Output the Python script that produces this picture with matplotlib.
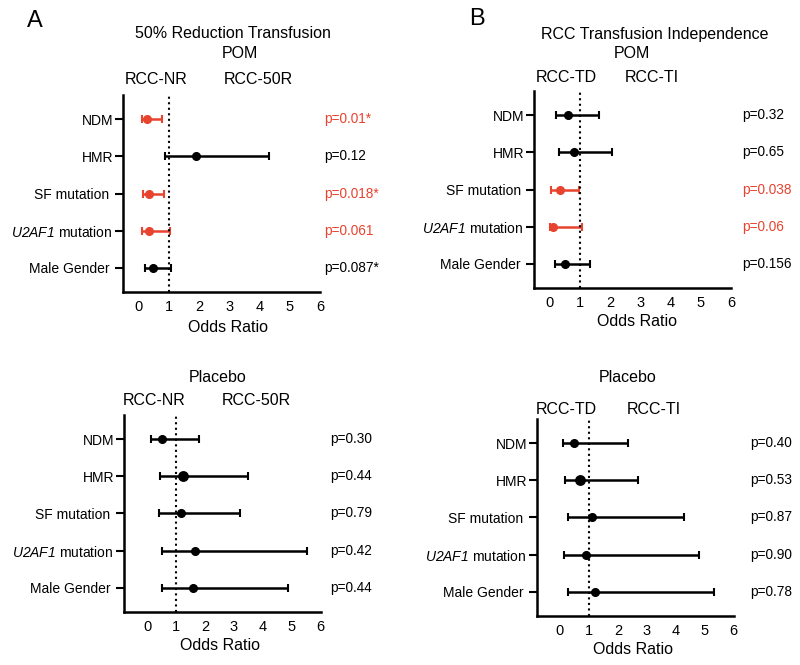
import matplotlib
matplotlib.use('Agg')
import matplotlib.pyplot as plt

plt.rcParams['font.family'] = ['Liberation Sans', 'DejaVu Sans']
plt.rcParams['mathtext.fontset'] = 'custom'
plt.rcParams['mathtext.it'] = 'Liberation Sans:italic'
plt.rcParams['mathtext.rm'] = 'Liberation Sans:italic'

RED = '#e8432f'

labels = ['NDM', 'HMR', 'SF mutation ', '$\\mathit{U2AF1}$ mutation ', 'Male Gender ']

# A: 50% reduction, POM
a_or = [0.30, 1.92, 0.35, 0.35, 0.48]
a_lo = [0.13, 0.87, 0.15, 0.11, 0.21]
a_hi = [0.77, 4.30, 0.84, 1.06, 1.09]
a_p = ['p=0.01*', 'p=0.12', 'p=0.018*', 'p=0.061', 'p=0.087*']
a_sig = [True, False, True, True, False]

# B: transfusion independence, POM
b_or = [0.61, 0.80, 0.33, 0.13, 0.50]
b_lo = [0.22, 0.32, 0.04, 0.02, 0.17]
b_hi = [1.65, 2.07, 0.96, 1.07, 1.32]
b_p = ['p=0.32', 'p=0.65', 'p=0.038', 'p=0.06', 'p=0.156']
b_sig = [False, False, True, True, False]

# C: 50% reduction, placebo
c_or = [0.53, 1.25, 1.16, 1.65, 1.58]
c_lo = [0.15, 0.46, 0.40, 0.50, 0.53]
c_hi = [1.80, 3.50, 3.22, 5.52, 4.85]
c_p = ['p=0.30', 'p=0.44', 'p=0.79', 'p=0.42', 'p=0.44']
c_sig = [False] * 5

# D: transfusion independence, placebo
d_or = [0.50, 0.69, 1.12, 0.89, 1.20]
d_lo = [0.09, 0.16, 0.27, 0.15, 0.27]
d_hi = [2.36, 2.69, 4.30, 4.80, 5.34]
d_p = ['p=0.40', 'p=0.53', 'p=0.87', 'p=0.90', 'p=0.78']
d_sig = [False] * 5

rows = [5, 4, 3, 2, 1]

fig = plt.figure(figsize=(8, 6.65), dpi=100)


def ftext(x, y, s, size=11.5, **kw):
    fig.text(x / 800, 1 - y / 665, s, ha='center', va='center', fontsize=size, **kw)


def forest(rect, xmin, ors, los, his, pvals, sig, px, big=None):
    ax = fig.add_axes(rect)
    for i, y in enumerate(rows):
        col = RED if sig[i] else 'black'
        ms = 6.8 if big == i else 5.5
        ax.errorbar(ors[i], y, xerr=[[ors[i] - los[i]], [his[i] - ors[i]]],
                    fmt='o', color=col, ecolor=col, elinewidth=1.8, capsize=3.2,
                    capthick=1.5, markersize=ms)
        ax.text(px, y, pvals[i], color=col, fontsize=9.8, ha='left', va='center',
                clip_on=False)
    ax.axvline(1, color='black', linestyle=':', linewidth=1.5)
    ax.set_xlim(xmin, 6)
    ax.set_ylim(0.35, 5.65)
    ax.set_xticks(range(7))
    ax.set_yticks(rows)
    ax.set_yticklabels(labels)
    for s in ['top', 'right']:
        ax.spines[s].set_visible(False)
    for s in ['left', 'bottom']:
        ax.spines[s].set_linewidth(1.8)
    ax.tick_params(axis='x', length=0, labelsize=10.5, pad=6)
    ax.tick_params(axis='y', length=6, width=1.5, labelsize=10, pad=1)
    return ax


forest([0.154, 0.561, 0.246, 0.296], -0.5, a_or, a_lo, a_hi, a_p, a_sig, 6.13)
forest([0.668, 0.567, 0.246, 0.296], -0.5, b_or, b_lo, b_hi, b_p, b_sig, 6.35)
forest([0.155, 0.080, 0.246, 0.296], -0.8, c_or, c_lo, c_hi, c_p, c_sig, 6.31, big=1)
forest([0.671, 0.074, 0.246, 0.296], -0.8, d_or, d_lo, d_hi, d_p, d_sig, 6.57, big=1)

ftext(35, 21, 'A', size=17)
ftext(477, 19, 'B', size=17)

ftext(233, 34, '50% Reduction Transfusion')
ftext(240, 53, 'POM')
ftext(156, 80, 'RCC-NR')
ftext(258, 80, 'RCC-50R')
ftext(228, 328, 'Odds Ratio')

ftext(655, 34, 'RCC Transfusion Independence')
ftext(632, 53, 'POM')
ftext(566, 77, 'RCC-TD')
ftext(652, 77, 'RCC-TI')
ftext(637, 322, 'Odds Ratio')

ftext(218, 377, 'Placebo')
ftext(154, 401, 'RCC-NR')
ftext(256, 401, 'RCC-50R')
ftext(220, 645, 'Odds Ratio')

ftext(628, 377, 'Placebo')
ftext(566, 409, 'RCC-TD')
ftext(654, 409, 'RCC-TI')
ftext(633, 650, 'Odds Ratio')

fig.savefig('out.png', dpi=100)
